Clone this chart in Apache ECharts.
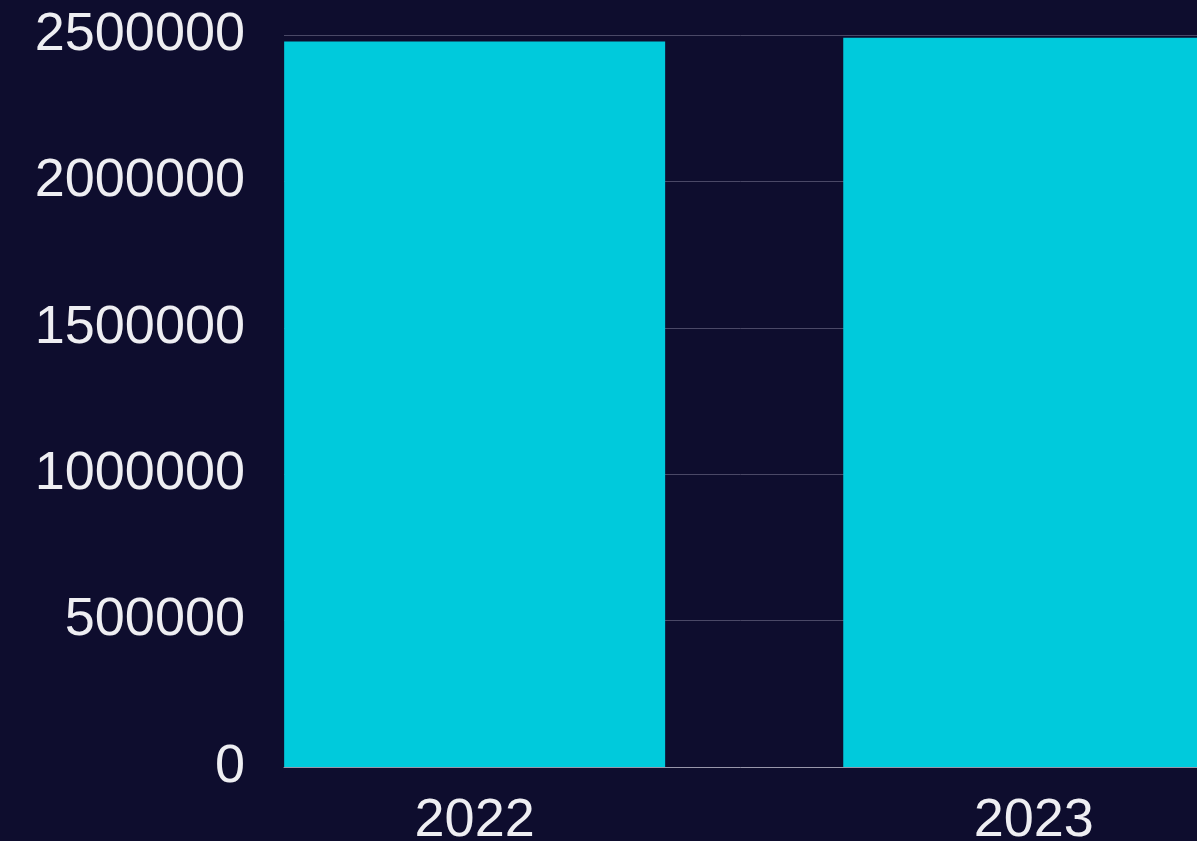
<!DOCTYPE html>
<html>
<head>
<meta charset="utf-8">
<script src="https://cdn.jsdelivr.net/npm/echarts@6/dist/echarts.min.js"></script>
<style>
  html, body { margin: 0; padding: 0; background: #0e0d2e; }
  #chart { width: 1197px; height: 841px; }
</style>
</head>
<body>
<div id="chart"></div>
<script>
// years on the x axis
var years = [2022, 2023];
var values = [2478000, 2491000];
var yTicks = [0, 500000, 1000000, 1500000, 2000000, 2500000];

var myChart = echarts.init(document.getElementById('chart'));

var option = {
  backgroundColor: '#0e0d2e',
  animation: false,
  grid: {
    left: 284,
    right: 0,
    top: 35,
    bottom: 74,
    containLabel: false,
    outerBoundsMode: 'none'
  },
  xAxis: {
    type: 'value',
    min: 2021.659,
    max: 2023.292,
    axisLine: { show: true, onZero: false, lineStyle: { color: '#9896aa', width: 1 } },
    axisTick: { show: false },
    splitLine: { show: false },
    axisLabel: {
      customValues: years,
      formatter: function (v) { return String(v); },
      color: '#eeeef2',
      fontSize: 54,
      fontFamily: 'Liberation Sans, Arial, sans-serif',
      margin: 27
    }
  },
  yAxis: {
    type: 'value',
    min: yTicks[0],
    max: yTicks[yTicks.length - 1],
    interval: 500000,
    axisLine: { show: false },
    axisTick: { show: false },
    splitLine: { show: true, lineStyle: { color: '#4a4866', width: 1 } },
    axisLabel: {
      formatter: function (v) { return String(v); },
      color: '#eeeef2',
      fontSize: 54,
      fontFamily: 'Liberation Sans, Arial, sans-serif',
      padding: [6, 0, 0, 0],
      margin: 39
    }
  },
  series: [
    {
      type: 'bar',
      barWidth: 381,
      itemStyle: { color: '#00cadc' },
      data: years.map(function (y, i) { return [y, values[i]]; })
    }
  ]
};

myChart.setOption(option);
</script>
</body>
</html>
